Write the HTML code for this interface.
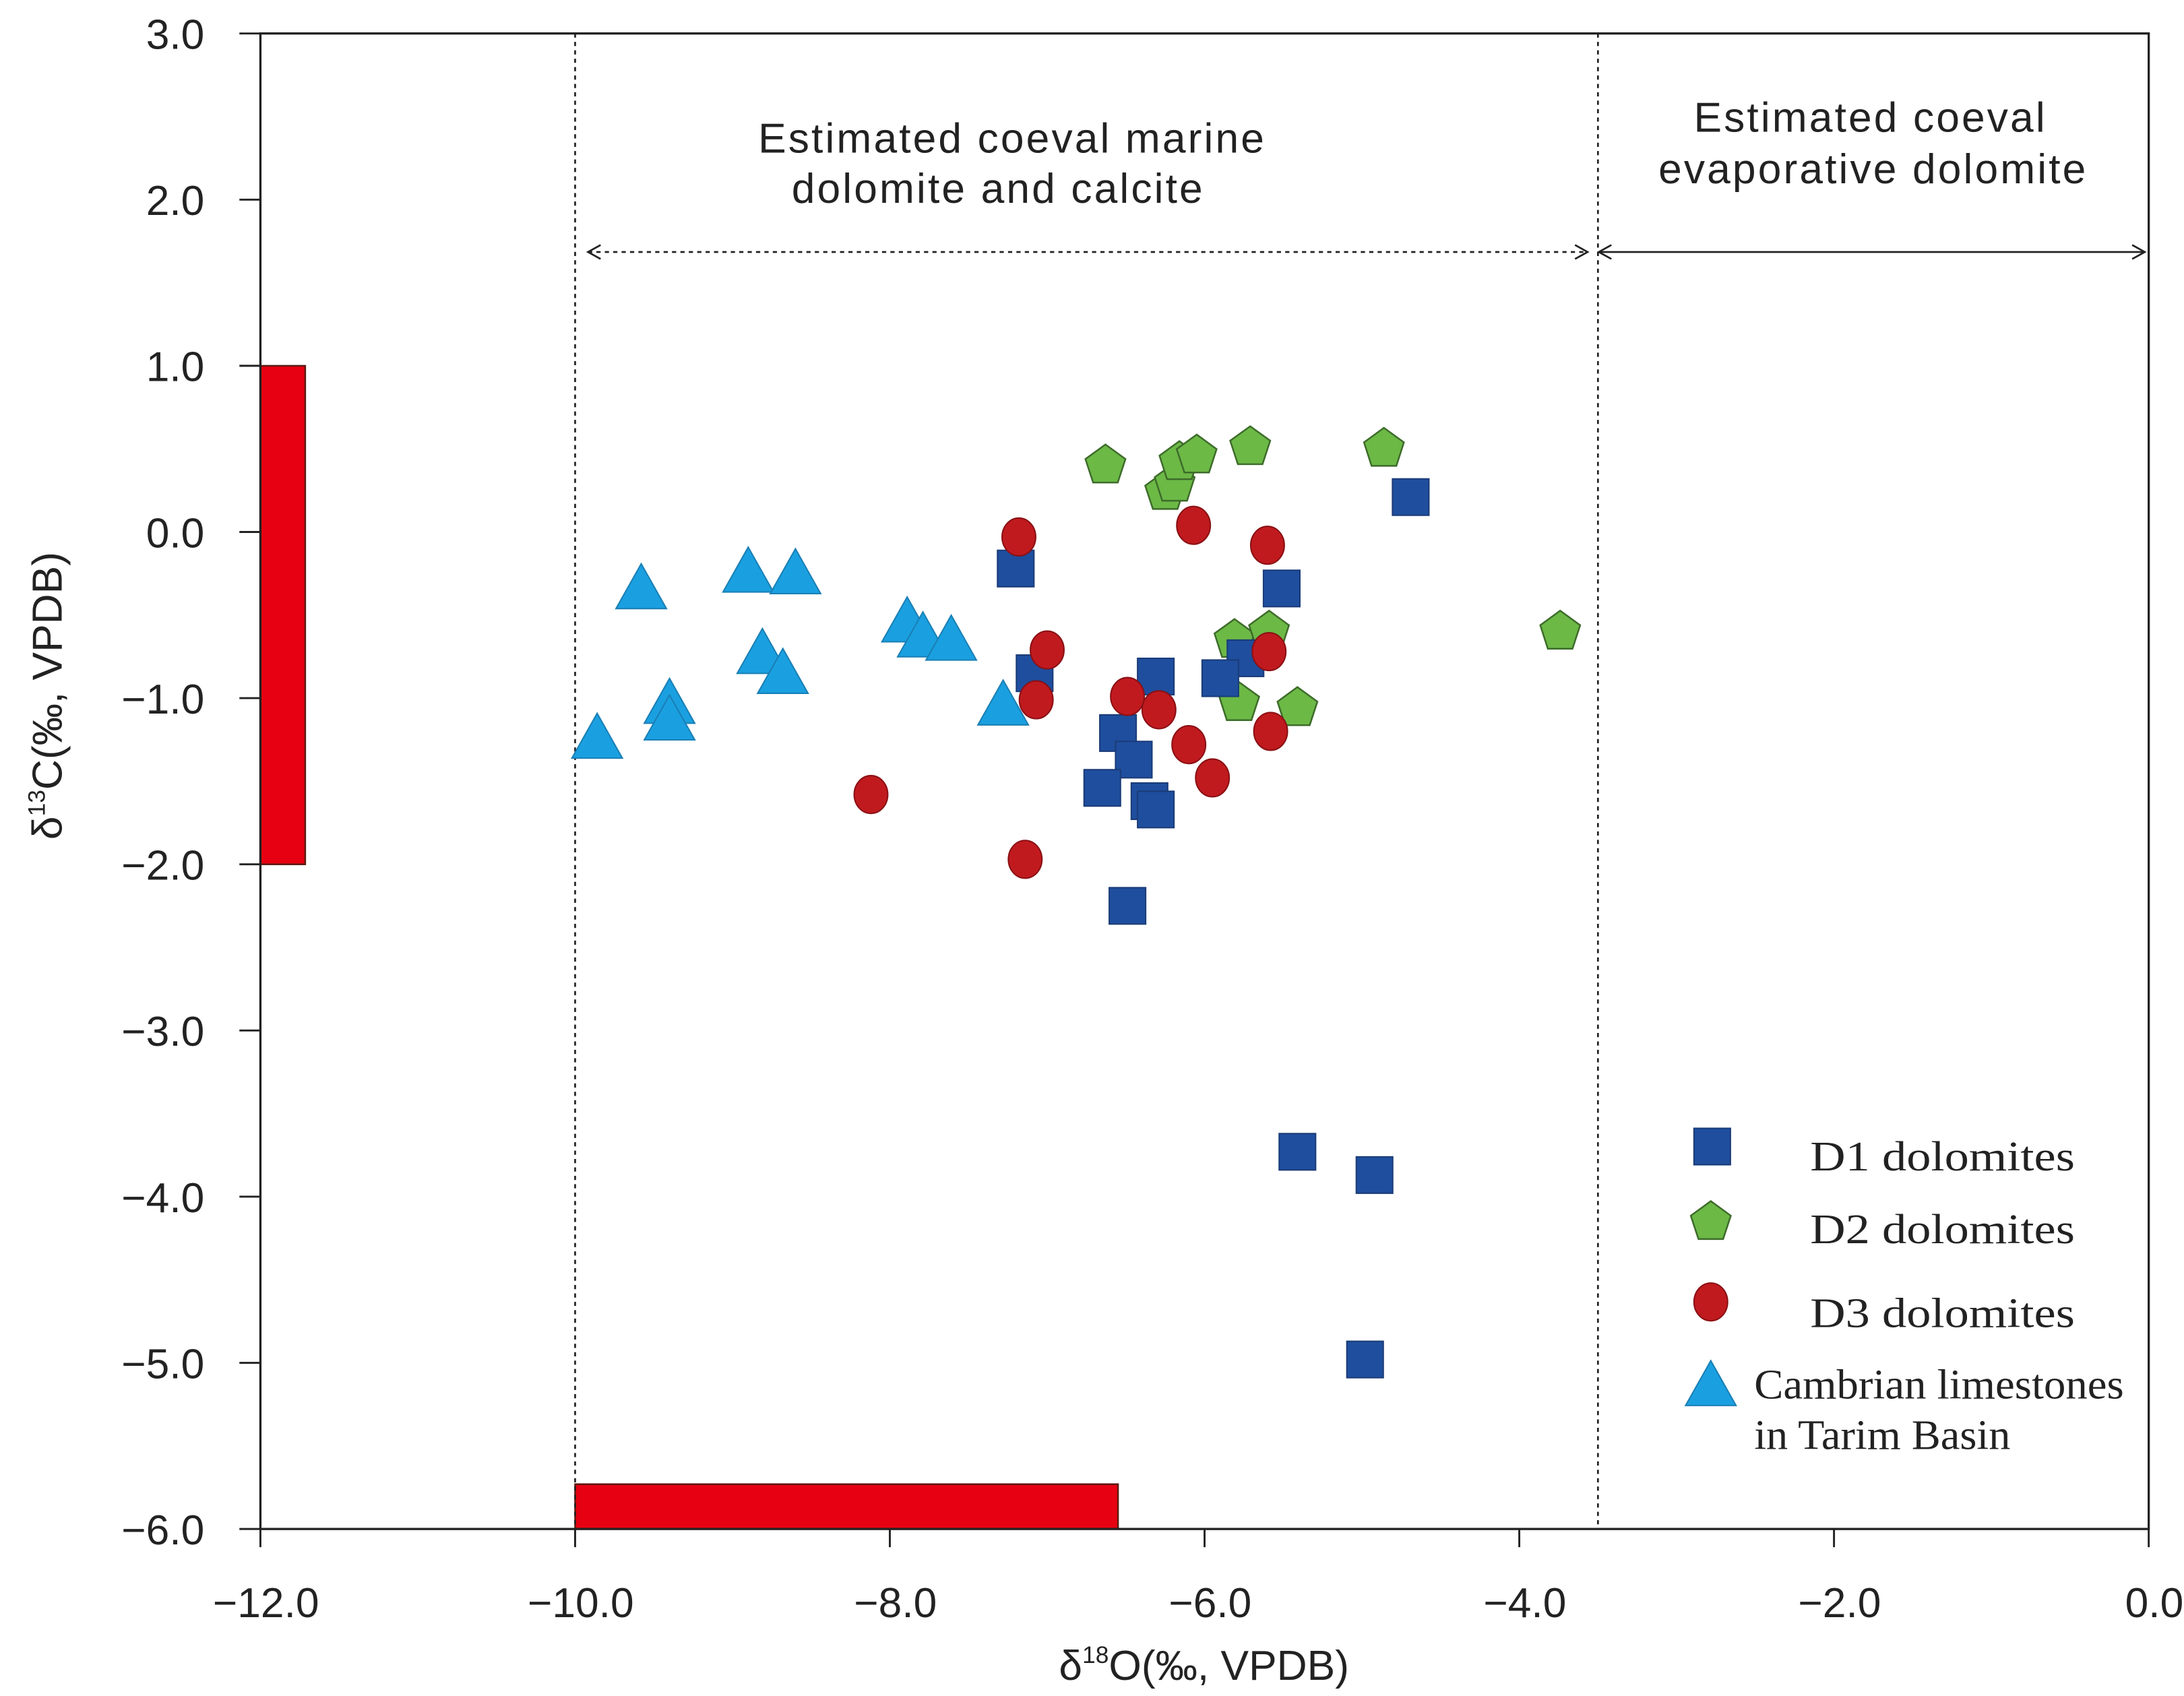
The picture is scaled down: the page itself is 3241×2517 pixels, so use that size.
<!DOCTYPE html>
<html><head><meta charset="utf-8"><style>
html,body{margin:0;padding:0;background:#fff;}
svg{display:block;}
.sans{font-family:"Liberation Sans",sans-serif;fill:#222;}
.serif{font-family:"Liberation Serif",serif;fill:#222;}
</style></head><body>
<svg id="chart" width="3241" height="2517" viewBox="0 0 1560 1211.5" xmlns="http://www.w3.org/2000/svg">
<g id="static"></g>
<g id="marks"></g>
</svg>
<script>
const xTicks = [-12, -10, -8, -6, -4, -2, 0];
const xTickLabels = ["\u221212.0","\u221210.0","\u22128.0","\u22126.0","\u22124.0","\u22122.0","0.0"];
const yTicks = [3, 2, 1, 0, -1, -2, -3, -4, -5, -6];
const yTickLabels = ["3.0","2.0","1.0","0.0","\u22121.0","\u22122.0","\u22123.0","\u22124.0","\u22125.0","\u22126.0"];
const d1X = [-4.69,-7.20,-5.51,-5.74,-7.08,-6.31,-5.90,-6.55,-6.45,-6.65,-6.35,-6.31,-6.49,-5.41,-4.92,-4.98];
const d1Y = [0.21,-0.22,-0.34,-0.76,-0.85,-0.87,-0.88,-1.21,-1.37,-1.54,-1.62,-1.67,-2.25,-3.73,-3.87,-4.98];
const d2X = [-6.63,-6.25,-6.19,-6.16,-6.05,-5.71,-4.86,-3.74,-5.81,-5.59,-5.78,-5.41];
const d2Y = [0.40,0.24,0.29,0.42,0.46,0.51,0.50,-0.60,-0.65,-0.60,-1.03,-1.06];
const d3X = [-7.18,-6.07,-5.60,-7.00,-5.59,-7.07,-6.49,-6.29,-6.10,-5.58,-5.95,-8.12,-7.14];
const d3Y = [-0.03,0.04,-0.08,-0.71,-0.72,-1.01,-0.99,-1.07,-1.28,-1.20,-1.48,-1.58,-1.97];
const limX = [-9.58,-8.90,-8.60,-7.89,-7.79,-7.61,-8.81,-8.68,-7.28,-9.40,-9.40,-9.86];
const limY = [-0.36,-0.26,-0.27,-0.56,-0.65,-0.67,-0.75,-0.87,-1.06,-1.05,-1.15,-1.26];
const marineO = [-10, -6.55];
const marineC = [-2, 1];

const NS = "http://www.w3.org/2000/svg";
const X0 = 186, XU = 112.4, Y0 = 380, YU = 118.7;
function sx(v){ return X0 + (v + 12) * XU; }
function sy(v){ return Y0 - v * YU; }
function mk(tag, attrs, parent, txt){
  const e = document.createElementNS(NS, tag);
  for (const k in attrs) e.setAttribute(k, attrs[k]);
  if (txt !== undefined) e.textContent = txt;
  parent.appendChild(e);
  return e;
}
const st = document.getElementById('static');
const mg = document.getElementById('marks');

let r = mk('rect', {x: sx(-12), y: sy(marineC[1]), width: 32, height: sy(marineC[0]) - sy(marineC[1]), fill: '#e60012', stroke: '#5a1a10', 'stroke-width': 1.2}, st);


r = mk('rect', {x: sx(marineO[0]), y: sy(-6) - 32, width: sx(marineO[1]) - sx(marineO[0]), height: 32, fill: '#e60012', stroke: '#5a1a10', 'stroke-width': 1.2}, st);



let f = mk('rect', {x: sx(-12), y: sy(3), width: sx(0) - sx(-12), height: sy(-6) - sy(3), fill: 'none', stroke: '#222', 'stroke-width': 1.6}, st);



[-10, -3.5].forEach(function(v){
  const l = mk('line', {x1: sx(v), x2: sx(v), y1: sy(3), y2: sy(-6), stroke: '#222', 'stroke-width': 1.3, 'stroke-dasharray': '3,3'}, st);
  
  
});

xTicks.forEach(function(v, i){
  const t = mk('line', {x1: sx(v), x2: sx(v), y1: sy(-6), y2: sy(-6) + 13, stroke: '#222', 'stroke-width': 1.4}, st);
  
  
  const lb = mk('text', {x: sx(v) + 4, y: sy(-6) + 63, 'text-anchor': 'middle', 'font-size': 30, class: 'sans'}, st, xTickLabels[i]);
  
  
});
yTicks.forEach(function(v, i){
  const t = mk('line', {x1: sx(-12) - 15, x2: sx(-12), y1: sy(v), y2: sy(v), stroke: '#222', 'stroke-width': 1.4}, st);
  
  
  const lb = mk('text', {x: 146, y: sy(v) + 11, 'text-anchor': 'end', 'font-size': 30, class: 'sans'}, st, yTickLabels[i]);
  
  
});

let xt = mk('text', {x: 860, y: 1200, 'text-anchor': 'middle', 'font-size': 30, class: 'sans'}, st);


xt.innerHTML = 'δ<tspan font-size="17" dy="-12">18</tspan><tspan dy="12">O(‰, VPDB)</tspan>';
let yt = mk('text', {x: 0, y: 0, 'text-anchor': 'middle', 'font-size': 30, class: 'sans', transform: 'translate(44,497) rotate(-90)'}, st);


yt.innerHTML = 'δ<tspan font-size="17" dy="-12">13</tspan><tspan dy="12">C(‰, VPDB)</tspan>';

[['Estimated coeval marine', 723, 109], ['dolomite and calcite', 713, 145], ['Estimated coeval', 1336, 94], ['evaporative dolomite', 1338, 131]].forEach(function(a){
  const t = mk('text', {x: a[1], y: a[2], 'text-anchor': 'middle', 'font-size': 30, 'letter-spacing': 1.5, class: 'sans'}, st, a[0]);
  
  
});

function arrow(x1, x2, y, dash, name){
  const g = mk('g', {}, st);
  
  
  const a = {x1: x1, x2: x2, y1: y, y2: y, stroke: '#222', 'stroke-width': 1.3};
  if (dash) a['stroke-dasharray'] = '3,3';
  mk('line', a, g);
  mk('polyline', {points: (x1+9)+','+(y-5)+' '+x1+','+y+' '+(x1+9)+','+(y+5), fill: 'none', stroke: '#222', 'stroke-width': 1.3}, g);
  mk('polyline', {points: (x2-9)+','+(y-5)+' '+x2+','+y+' '+(x2-9)+','+(y+5), fill: 'none', stroke: '#222', 'stroke-width': 1.3}, g);
}
arrow(420, 1134, 180, true, 'marine-range-arrow');
arrow(1142, 1532, 180, false, 'evaporative-range-arrow');

function square(g, x, y){ mk('rect', {x: x-13, y: y-13, width: 26, height: 26, fill: '#1f4e9e', stroke: '#1b3c78', 'stroke-width': 1}, g); }
function pent(g, x, y){
  const pts = [];
  for (let k = 0; k < 5; k++){ const a = -Math.PI/2 + k*2*Math.PI/5; pts.push((x + 15*Math.cos(a)).toFixed(1) + ',' + (y + 15*Math.sin(a)).toFixed(1)); }
  mk('polygon', {points: pts.join(' '), fill: '#6cb946', stroke: '#3d6b2a', 'stroke-width': 1.2}, g);
}
function circ(g, x, y){ mk('ellipse', {cx: x, cy: y, rx: 12, ry: 13.5, fill: '#c01a1f', stroke: '#8a1014', 'stroke-width': 1}, g); }
function tri(g, x, y){ mk('polygon', {points: (x)+','+(y-20)+' '+(x-18)+','+(y+12)+' '+(x+18)+','+(y+12), fill: '#1aa0e0', stroke: '#1a7fb5', 'stroke-width': 1}, g); }

function series(xs, ys, fn, name){
  const g = mk('g', {}, mg);
  
  
  xs.forEach(function(v, i){
    const p = mk('g', {}, g);
    
    
    fn(p, sx(v), sy(ys[i]));
  });
}
series(limX, limY, tri, 'cambrian-limestone');
series(d2X, d2Y, pent, 'd2-dolomite');
series(d1X, d1Y, square, 'd1-dolomite');
series(d3X, d3Y, circ, 'd3-dolomite');

const lg = mk('g', {}, st);


function entry(fn, mx, my, lines, tx, ty){
  const e = mk('g', {}, lg);
  
  
  fn(e, mx, my);
  lines.forEach(function(s, i){ mk('text', {x: tx, y: ty + i*36, 'font-size': 30, class: 'serif', textLength: s.w, lengthAdjust: 'spacingAndGlyphs'}, e, s.t); });
}
entry(square, 1223, 819, [{t: 'D1 dolomites', w: 189}], 1293, 836);
entry(pent, 1222, 873, [{t: 'D2 dolomites', w: 189}], 1293, 888);
entry(circ, 1222, 930, [{t: 'D3 dolomites', w: 189}], 1293, 948);
entry(tri, 1222, 992, [{t: 'Cambrian limestones', w: 264}, {t: 'in Tarim Basin', w: 183}], 1253, 999);
</script>
</body></html>
